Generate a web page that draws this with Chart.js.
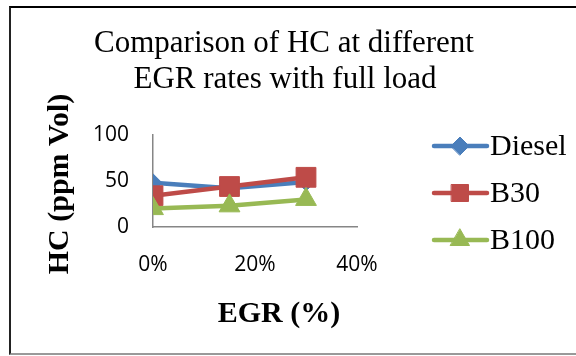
<!DOCTYPE html>
<html>
<head>
<meta charset="utf-8">
<script src="https://cdn.jsdelivr.net/npm/chart.js@4/dist/chart.umd.min.js"></script>
<style>
  html, body { margin: 0; padding: 0; background: #fff; }
  #wrap { position: relative; width: 576px; height: 356px; overflow: hidden; }
  #frame {
    position: absolute; left: 9px; top: 6px; width: 620px; height: 349px;
    box-sizing: border-box;
    border-top: 2px solid #000; border-left: 2px solid #222; border-bottom: 2px solid #999;
  }
  canvas { position: absolute; left: 0; top: 0; }
</style>
</head>
<body>
<div id="wrap">
  <div id="frame"></div>
  <canvas id="c" width="576" height="356"></canvas>
</div>
<script>
// EGR rates (%) and HC emissions (ppm Vol) at full load
const egrRates = [0, 15, 30];
const dieselHC = [48, 42, 49];
const b30HC = [34, 44, 54];
const b100HC = [20, 23, 30];
const xTickValues = [0, 20, 40];
const yTickValues = [0, 50, 100];
const seriesNames = ['Diesel', 'B30', 'B100'];
const titleLines = ['Comparison of HC at different', 'EGR rates with full load'];
const xTitle = 'EGR (%)';
const yTitle = 'HC (ppm Vol)';

const colors = ['#4A7EBB', '#BE4B48', '#98B954'];
const markers = [
  { style: 'rectRot', r: 9, lr: 9 },
  { style: 'rect', r: 14, lr: 12 },
  { style: 'triangle', r: 12, lr: 11 }
];
const serif = '"Liberation Serif", "Times New Roman", serif';
const tickFont = { family: '"Open Sans", "Liberation Sans", sans-serif', size: 21 };

function toPoints(values) {
  return egrRates.map((x, i) => ({ x: x, y: values[i] }));
}

const seriesValues = [dieselHC, b30HC, b100HC];
const datasets = seriesValues.map((vals, i) => ({
  label: seriesNames[i],
  data: toPoints(vals),
  order: 3 - i, // later series are painted over earlier ones
  borderColor: colors[i],
  backgroundColor: colors[i],
  borderWidth: 4.5,
  pointStyle: markers[i].style,
  pointRadius: markers[i].r,
  pointHoverRadius: markers[i].r,
  pointBackgroundColor: colors[i],
  pointBorderColor: colors[i],
  pointBorderWidth: 1,
  tension: 0
}));

// Titles and the line+marker legend
const decorations = {
  id: 'decorations',
  afterDraw(chart) {
    const ctx = chart.ctx;
    ctx.save();
    ctx.fillStyle = '#000';
    ctx.textAlign = 'center';
    ctx.textBaseline = 'alphabetic';
    ctx.font = '31px ' + serif;
    ctx.fillText(titleLines[0], 284, 52);
    ctx.fillText(titleLines[1], 285, 88);

    ctx.font = 'bold 30px ' + serif;
    ctx.fillText(xTitle, 279, 322);

    ctx.save();
    ctx.translate(68, 184);
    ctx.rotate(-Math.PI / 2);
    ctx.fillText(yTitle, 0, 0);
    ctx.restore();

    const ys = [146, 193, 240];
    seriesNames.forEach((name, i) => {
      const y = ys[i];
      ctx.strokeStyle = colors[i];
      ctx.lineWidth = 4.5;
      ctx.lineCap = 'round';
      ctx.beginPath();
      ctx.moveTo(434, y);
      ctx.lineTo(487, y);
      ctx.stroke();
      ctx.fillStyle = colors[i];
      ctx.lineWidth = 1;
      Chart.helpers.drawPoint(ctx, {
        pointStyle: markers[i].style, radius: markers[i].lr, rotation: 0, borderWidth: 1
      }, 460, y);
      ctx.fillStyle = '#000';
      ctx.textAlign = 'left';
      ctx.textBaseline = 'middle';
      ctx.font = '30px ' + serif;
      ctx.fillText(name, 490, y + 1);
    });
    ctx.restore();
  }
};

new Chart(document.getElementById('c'), {
  type: 'line',
  data: { datasets: datasets },
  options: {
    responsive: false,
    animation: false,
    events: [],
    layout: { padding: { left: 0, top: 135, right: 219, bottom: 0 } },
    plugins: { legend: { display: false }, title: { display: false }, tooltip: { enabled: false } },
    scales: {
      x: {
        type: 'linear', min: 0, max: 40,
        grid: { display: false, drawTicks: false },
        border: { display: true, color: '#868686', width: 1.5 },
        afterBuildTicks: s => { s.ticks = xTickValues.map(v => ({ value: v })); },
        afterFit: s => { s.height = 356 - 227; },
        ticks: {
          padding: 25, color: '#000', maxRotation: 0,
          font: tickFont,
          callback: v => v + '%'
        }
      },
      y: {
        min: 0, max: 100,
        grid: { display: false, drawTicks: false },
        border: { display: true, color: '#868686', width: 1.5 },
        afterBuildTicks: s => { s.ticks = yTickValues.map(v => ({ value: v })); },
        afterFit: s => { s.width = 153; },
        ticks: {
          padding: 24, color: '#000',
          font: tickFont
        }
      }
    }
  },
  plugins: [decorations]
});
</script>
</body>
</html>
